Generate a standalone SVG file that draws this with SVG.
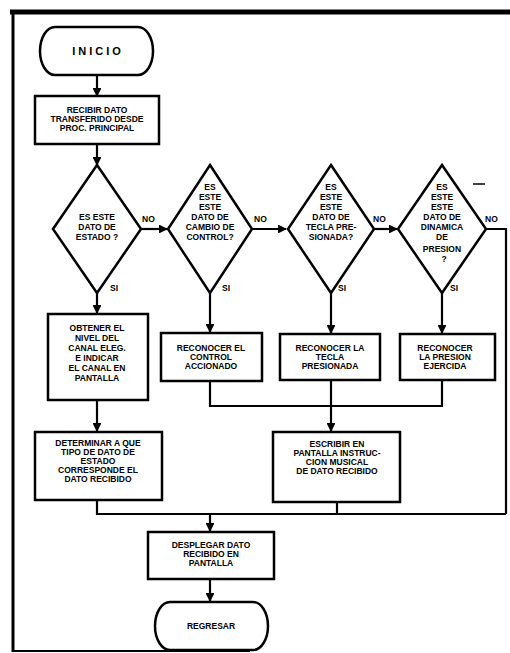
<svg xmlns="http://www.w3.org/2000/svg" width="510" height="653" viewBox="0 0 510 653">
<style>
.shape{fill:#fff;stroke:#000;stroke-width:2.5}
.frame{fill:none;stroke:#000}
.conn{fill:none;stroke:#000;stroke-width:2.2}
text{font-family:"Liberation Sans",Arial,sans-serif;font-weight:900;font-size:8.5px;fill:#000;text-anchor:middle;text-transform:uppercase}
.lbl{font-size:8.5px;text-anchor:start}
.big{font-size:11px;letter-spacing:3px}
</style>
<defs>
<marker id="arr" viewBox="0 0 10 10" refX="9" refY="5" markerWidth="4" markerHeight="4" orient="auto">
<path d="M0,0 L10,5 L0,10 Z" fill="#000"/>
</marker>
</defs>
<rect width="510" height="653" fill="#fff"/>
<g id="frame">
<line class="frame" x1="10" y1="12" x2="510" y2="12" stroke-width="5"/>
<line class="frame" x1="13" y1="10" x2="13" y2="652" stroke-width="3"/>
<line class="frame" x1="13" y1="651" x2="250" y2="651" stroke-width="2"/>
<line class="frame" x1="473" y1="184" x2="485" y2="184" stroke-width="1.5"/>
</g>
<g id="connectors">
<line class="conn" x1="97" y1="75" x2="97" y2="96" marker-end="url(#arr)"/>
<line class="conn" x1="97" y1="144" x2="97" y2="165" marker-end="url(#arr)"/>
<line class="conn" x1="141" y1="229" x2="167" y2="229" marker-end="url(#arr)"/>
<line class="conn" x1="252" y1="229" x2="286" y2="229" marker-end="url(#arr)"/>
<line class="conn" x1="374" y1="229" x2="397" y2="229" marker-end="url(#arr)"/>
<polyline class="conn" points="486,229 506,229 506,514"/>
<line class="conn" x1="97" y1="293" x2="97" y2="313" marker-end="url(#arr)"/>
<line class="conn" x1="210" y1="293" x2="210" y2="332" marker-end="url(#arr)"/>
<line class="conn" x1="331" y1="293" x2="331" y2="333" marker-end="url(#arr)"/>
<line class="conn" x1="442" y1="293" x2="442" y2="333" marker-end="url(#arr)"/>
<line class="conn" x1="97" y1="400" x2="97" y2="431" marker-end="url(#arr)"/>
<polyline class="conn" points="210,381 210,406 442,406 442,380"/>
<line class="conn" x1="331" y1="380" x2="331" y2="431" marker-end="url(#arr)"/>
<polyline class="conn" points="97,500 97,514 506,514"/>
<line class="conn" x1="337" y1="502" x2="337" y2="514"/>
<line class="conn" x1="210" y1="514" x2="210" y2="531" marker-end="url(#arr)"/>
<line class="conn" x1="210" y1="579" x2="210" y2="601" marker-end="url(#arr)"/>
<text class="lbl" x="142" y="222">NO</text>
<text class="lbl" x="110" y="291">SI</text>
<text class="lbl" x="254" y="222">NO</text>
<text class="lbl" x="222" y="291">SI</text>
<text class="lbl" x="373" y="222">NO</text>
<text class="lbl" x="338" y="291">SI</text>
<text class="lbl" x="485" y="222">NO</text>
<text class="lbl" x="450" y="291">SI</text>
</g>
<g id="inicio">
<path class="shape" d="M55,27 H138 A15,24 0 0 1 138,75 H55 A15,24 0 0 1 55,27 Z"/>
<text class="big" x="98" y="55">INICIO</text>
</g>
<g id="recibir">
<rect class="shape" x="35" y="96" width="124" height="48"/>
<text x="97" y="113">RECIBIR DATO</text>
<text x="97" y="122">TRANSFERIDO DESDE</text>
<text x="97" y="131">PROC. PRINCIPAL</text>
</g>
<g id="d-estado">
<polygon class="shape" points="97,165 141,229 97,293 53,229"/>
<text x="97" y="220">ES ESTE</text>
<text x="97" y="230">DATO DE</text>
<text x="97" y="240">ESTADO ?</text>
</g>
<g id="d-control">
<polygon class="shape" points="210,165 252,229 210,293 168,229"/>
<text x="210" y="190">ES</text>
<text x="210" y="200">ESTE</text>
<text x="210" y="210">ESTE</text>
<text x="210" y="220">DATO DE</text>
<text x="210" y="230">CAMBIO DE</text>
<text x="210" y="240">CONTROL?</text>
</g>
<g id="d-tecla">
<polygon class="shape" points="331,165 374,229 331,293 288,229"/>
<text x="331" y="190">ES</text>
<text x="331" y="200">ESTE</text>
<text x="331" y="210">ESTE</text>
<text x="331" y="220">DATO DE</text>
<text x="331" y="230">TECLA PRE-</text>
<text x="331" y="240">SIONADA?</text>
</g>
<g id="d-presion">
<polygon class="shape" points="442,165 486,229 442,293 398,229"/>
<text x="442" y="190">ES</text>
<text x="442" y="200">ESTE</text>
<text x="442" y="210">ESTE</text>
<text x="442" y="220">DATO DE</text>
<text x="442" y="230">DINAMICA</text>
<text x="442" y="240">DE</text>
<text x="442" y="252">PRESION</text>
<text x="444" y="262">?</text>
</g>
<g id="obtener">
<rect class="shape" x="48" y="314" width="100" height="86"/>
<text x="97" y="331">OBTENER EL</text>
<text x="97" y="341">NIVEL DEL</text>
<text x="97" y="351">CANAL ELEG.</text>
<text x="97" y="361">E INDICAR</text>
<text x="97" y="371">EL CANAL EN</text>
<text x="97" y="381">PANTALLA</text>
</g>
<g id="rec-control">
<rect class="shape" x="161" y="333" width="101" height="48"/>
<text x="211" y="351">RECONOCER EL</text>
<text x="211" y="360">CONTROL</text>
<text x="211" y="369">ACCIONADO</text>
</g>
<g id="rec-tecla">
<rect class="shape" x="280" y="334" width="100" height="46"/>
<text x="330" y="351">RECONOCER LA</text>
<text x="330" y="360">TECLA</text>
<text x="330" y="369">PRESIONADA</text>
</g>
<g id="rec-presion">
<rect class="shape" x="400" y="334" width="95" height="46"/>
<text x="445" y="351">RECONOCER</text>
<text x="445" y="360">LA PRESION</text>
<text x="445" y="369">EJERCIDA</text>
</g>
<g id="determinar">
<rect class="shape" x="35" y="432" width="127" height="68"/>
<text x="98" y="446">DETERMINAR A QUE</text>
<text x="98" y="455">TIPO DE DATO DE</text>
<text x="98" y="464">ESTADO</text>
<text x="98" y="473">CORRESPONDE EL</text>
<text x="98" y="482">DATO RECIBIDO</text>
</g>
<g id="escribir">
<rect class="shape" x="273" y="432" width="127" height="70"/>
<text x="337" y="447">ESCRIBIR EN</text>
<text x="337" y="456">PANTALLA INSTRUC-</text>
<text x="337" y="465">CION MUSICAL</text>
<text x="337" y="474">DE DATO RECIBIDO</text>
</g>
<g id="desplegar">
<rect class="shape" x="148" y="532" width="126" height="47"/>
<text x="211" y="548">DESPLEGAR DATO</text>
<text x="211" y="557">RECIBIDO EN</text>
<text x="211" y="566">PANTALLA</text>
</g>
<g id="regresar">
<path class="shape" d="M170,602 H253 A15,24 0 0 1 253,650 H170 A15,24 0 0 1 170,602 Z"/>
<text x="211" y="629">REGRESAR</text>
</g>
</svg>
